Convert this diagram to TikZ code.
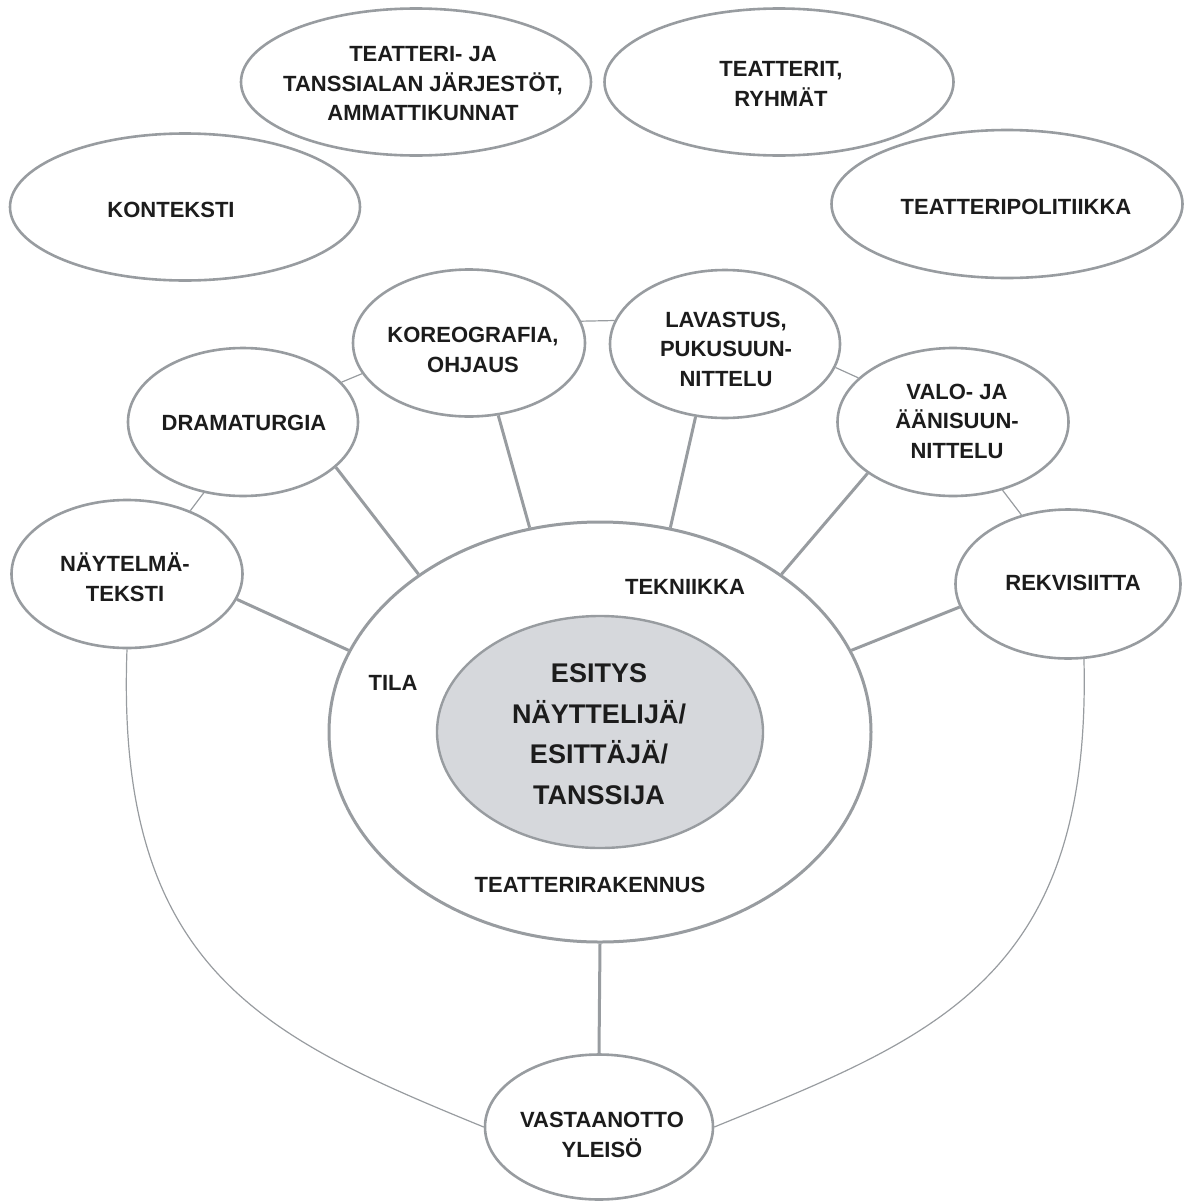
\documentclass[tikz,border=0pt]{standalone}
\usepackage{fontspec}
\setmainfont{Liberation Sans}
\usetikzlibrary{shapes.geometric}

\definecolor{linegray}{RGB}{152,156,160}
\definecolor{coregray}{RGB}{214,216,220}
\definecolor{inkblack}{RGB}{28,28,28}

\tikzset{
  bub/.style={ellipse, draw=linegray, line width=2.6pt, fill=white, inner sep=0pt},
  txt/.style={font=\bfseries\fontsize{22}{29.5}\selectfont, align=center, text=inkblack, inner sep=0pt},
  bigtxt/.style={font=\bfseries\fontsize{27}{40.5}\selectfont, align=center, text=inkblack, inner sep=0pt},
  link/.style={draw=linegray, line width=3pt},
  thinlink/.style={draw=linegray, line width=1.2pt}
}

\begin{document}
\begin{tikzpicture}[x=1pt,y=-1pt]
        \useasboundingbox (0,0) rectangle (1184,1202);
        % Outer ring of ellipses
        \node[bub, minimum width=350, minimum height=147] (kont) at (185,207) {};
        \node[bub, minimum width=350, minimum height=147] (jarj) at (416,82) {};
        \node[bub, minimum width=349, minimum height=147] (ryhm) at (779,82) {};
        \node[bub, minimum width=351, minimum height=148] (poli) at (1007,204) {};
        \node[txt] (kontT) at (171,210) {KONTEKSTI};
        \node[txt] (jarjT) at (423,84) {TEATTERI- JA\\TANSSIALAN JÄRJESTÖT,\\AMMATTIKUNNAT};
        \node[txt] (ryhmT) at (781,84) {TEATTERIT,\\RYHMÄT};
        \node[txt] (poliT) at (1016,207) {TEATTERIPOLITIIKKA};
        % Middle ring of ellipses
        \node[bub, minimum width=231, minimum height=148] (nayt) at (127,574) {};
        \node[bub, minimum width=230, minimum height=148] (dram) at (243,422) {};
        \node[bub, minimum width=232, minimum height=147] (kore) at (469,343) {};
        \node[bub, minimum width=230, minimum height=148] (lava) at (725,344) {};
        \node[bub, minimum width=231, minimum height=148] (valo) at (953,422) {};
        \node[bub, minimum width=225, minimum height=149] (rekv) at (1068,584) {};
        \node[txt] (naytT) at (125,577) {NÄYTELMÄ-\\TEKSTI};
        \node[txt] (dramT) at (244,423) {DRAMATURGIA};
        \node[txt] (koreT) at (473,350) {KOREOGRAFIA,\\OHJAUS};
        \node[txt] (lavaT) at (726,349) {LAVASTUS,\\PUKUSUUN-\\NITTELU};
        \node[txt] (valoT) at (957,421) {VALO- JA\\ÄÄNISUUN-\\NITTELU};
        \node[txt] (rekvT) at (1073,583) {REKVISIITTA};
        % The space and the performance in it
        \node[bub, line width=3pt, minimum width=542, minimum height=420] (tila) at (600,732) {};
        \node[bub, fill=coregray, line width=2.4pt, minimum width=326, minimum height=232] (esit) at (600,732) {};
        \node[bigtxt] (esitT) at (599,734) {ESITYS\\NÄYTTELIJÄ/\\ESITTÄJÄ/\\TANSSIJA};
        \node[txt] (tekn) at (685,587) {TEKNIIKKA};
        \node[txt] (tilaT) at (393,683) {TILA};
        \node[txt] (rak) at (590,885) {TEATTERIRAKENNUS};
        % Reception
        \node[bub, minimum width=228, minimum height=145] (vast) at (599,1127) {};
        \node[txt] (vastT) at (602,1135) {VASTAANOTTO\\YLEISÖ};
        % Spokes to the space
        \draw[link] (nayt.-13) -- (tila.162);
        \draw[link] (dram.-26) -- (tila.139);
        \draw[link] (kore.-68) -- (tila.109);
        \draw[link] (lava.-112) -- (tila.71);
        \draw[link] (valo.-149) -- (tila.41);
        \draw[link] (rekv.-168) -- (tila.18);
        \draw[link] (tila.south) -- (vast.north);
        % Thin links round the middle ring
        \draw[thinlink] (nayt.45) -- (dram.-119);
        \draw[thinlink] (dram.22) -- (kore.196);
        \draw[thinlink] (kore.11) -- (lava.168);
        \draw[thinlink] (lava.-12) -- (valo.155);
        \draw[thinlink] (valo.-54) -- (rekv.124);
        % Arcs down to the audience
        \draw[thinlink] (nayt.south) .. controls +(-12,320) and +(-220,-90) .. (vast.west);
        \draw[thinlink] (rekv.-78) .. controls +(8,320) and +(220,-90) .. (vast.east);
    \end{tikzpicture}
\end{document}
